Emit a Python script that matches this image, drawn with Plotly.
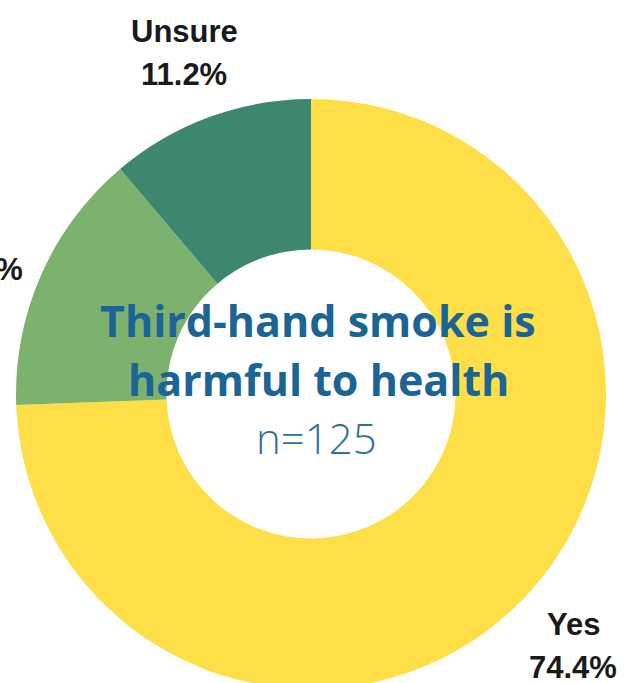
import plotly.graph_objects as go

# Survey responses: "Third-hand smoke is harmful to health"
labels = ["Yes", "No", "Unsure"]
shares = [74.4, 14.4, 11.2]
colors = ["#FEDF48", "#7DB26E", "#3E876F"]
sample_size = 125

W, H = 640, 690
L, T, PLOT = 16, 99, 590


def px_x(x):
    return (x - L) / PLOT


def px_y(y):
    return 1 - (y - T) / PLOT


fig = go.Figure(
    go.Pie(
        labels=labels,
        values=shares,
        hole=0.49,
        sort=False,
        direction="clockwise",
        rotation=0,
        marker=dict(colors=colors, line=dict(width=0)),
        textinfo="none",
        hoverinfo="label+percent",
        showlegend=False,
    )
)

# Outside category labels (name on top, share below): (name x, share x, name y, share y)
label_pos = {
    "Unsure": (184, 184, 31, 74),
    "No": (-34, -21, 226, 269),
    "Yes": (573, 573, 624, 667),
}
annotations = []
for name, val in zip(labels, shares):
    x1, x2, y1, y2 = label_pos[name]
    for text, xx, yy in ((name, x1, y1), (f"{val:.1f}%", x2, y2)):
        annotations.append(dict(
            x=px_x(xx), y=px_y(yy), xref="paper", yref="paper",
            text=f"<b>{text}</b>", showarrow=False,
            xanchor="center", yanchor="middle",
            font=dict(family="Liberation Sans, Arial", size=31, color="#1a1a1a"),
        ))

# Centre title
title_lines = ["Third-hand smoke is", "harmful to health"]
for line, yy in zip(title_lines, (320, 379)):
    annotations.append(dict(
        x=px_x(318), y=px_y(yy), xref="paper", yref="paper",
        text=line, showarrow=False, xanchor="center", yanchor="middle",
        font=dict(family="Open Sans", size=43, color="#1B6496", weight=700),
    ))
annotations.append(dict(
    x=px_x(317), y=px_y(437), xref="paper", yref="paper",
    text=f"n={sample_size}", showarrow=False, xanchor="center", yanchor="middle",
    font=dict(family="Open Sans", size=42, color="#2E70A0", weight=300),
))

fig.update_layout(
    width=W, height=H,
    margin=dict(l=L, r=W - L - PLOT, t=T, b=H - T - PLOT),
    paper_bgcolor="white",
    plot_bgcolor="white",
    annotations=annotations,
)

fig.write_html(
    "out.html",
    post_script="document.body.style.margin='0';document.body.style.overflow='hidden';",
)
